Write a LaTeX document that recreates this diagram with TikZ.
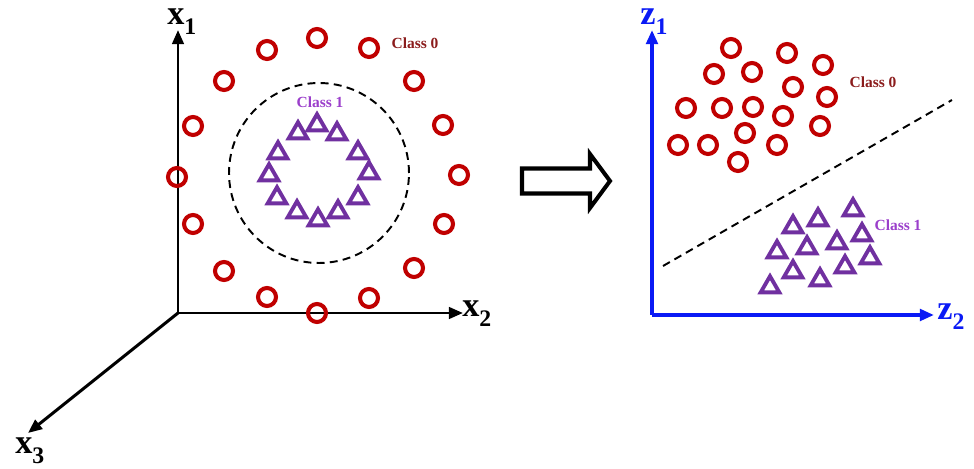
\documentclass[tikz,border=0pt]{standalone}
\usepackage{fontspec}
\setmainfont{Liberation Serif}
\usetikzlibrary{arrows.meta, shapes.geometric}
\definecolor{ring0}{HTML}{C00000}
\definecolor{tri1}{HTML}{7030A0}
\definecolor{text0}{HTML}{8B1C1C}
\definecolor{text1}{HTML}{9B3FCB}
\definecolor{zaxis}{HTML}{0A1AF5}
\newcommand{\axsub}[2]{#1\raisebox{-5.5pt}{\fontsize{13.5}{13.5}\selectfont #2}}

\begin{document}
\begin{tikzpicture}[
  x=0.02cm, y=-0.02cm,
  ring/.style={circle, draw=ring0, line width=2.3pt, minimum size=0.36cm,
               inner sep=0pt},
  tri/.style={regular polygon, regular polygon sides=3, draw=tri1,
              line width=2.2pt, minimum size=0.43cm, inner sep=0pt},
  axis/.style={line width=1.7pt, -{Triangle[length=8pt, width=6.5pt]}},
  zax/.style={axis, zaxis, line width=2.2pt},
  sep/.style={line width=1.1pt, dash pattern=on 4.5pt off 3pt},
  classlabel/.style={font=\fontsize{8.8}{9}\selectfont\bfseries},
  axlab/.style={anchor=base west, inner sep=0pt,
                font=\fontsize{19.5}{19.5}\selectfont\bfseries},
]
\useasboundingbox (0,0) rectangle (974,469);

% input space
\coordinate (o) at (178,313);
\coordinate (x1end) at (178,30);
\coordinate (x2end) at (463,313);
\coordinate (x3end) at (28,433);

\draw[axis] (o) -- (x1end);
\draw[axis] (o) -- (x2end);
\draw[axis] (o) -- (x3end);

\node[axlab] (x1) at (167,25) {\axsub{x}{1}};
\node[axlab] (x2) at (462,317) {\axsub{x}{2}};
\node[axlab] (x3) at (15,454) {\axsub{x}{3}};

\node[circle, draw, sep, minimum size=3.6cm, inner sep=0pt] (bound) at (319,173) {};

\node[ring] (a1) at (317,38) {};
\node[ring] (a2) at (267,50) {};
\node[ring] (a3) at (369,48) {};
\node[ring] (a4) at (224,81) {};
\node[ring] (a5) at (414,81) {};
\node[ring] (a6) at (193,126) {};
\node[ring] (a7) at (443,125) {};
\node[ring] (a8) at (177,177) {};
\node[ring] (a9) at (459,175) {};
\node[ring] (a10) at (193,224) {};
\node[ring] (a11) at (444,224) {};
\node[ring] (a12) at (224,271) {};
\node[ring] (a13) at (414,268) {};
\node[ring] (a14) at (267,297) {};
\node[ring] (a15) at (369,298) {};
\node[ring] (a16) at (317,313) {};

\node[tri] (b1) at (317,125) {};
\node[tri] (b2) at (298,133) {};
\node[tri] (b3) at (337,134) {};
\node[tri] (b4) at (278,153) {};
\node[tri] (b5) at (358,153) {};
\node[tri] (b6) at (269,175) {};
\node[tri] (b7) at (369,173) {};
\node[tri] (b8) at (277,198) {};
\node[tri] (b9) at (358,198) {};
\node[tri] (b10) at (297,212) {};
\node[tri] (b11) at (338,212) {};
\node[tri] (b12) at (318,220) {};

\node[classlabel, text=text0] (lab0) at (415,43) {Class 0};
\node[classlabel, text=text1] (lab1) at (320,102) {Class 1};

% mapping arrow
\draw[line width=2.3pt, line join=miter] (522,168.5) -- (590,168.5) -- (590,154)
  -- (610,181) -- (590,208) -- (590,193.5) -- (522,193.5) -- cycle;

% feature space
\coordinate (p) at (652,315);
\coordinate (z1end) at (652,30);
\coordinate (z2end) at (934,315);

\draw[zax] (p) -- (z1end);
\draw[zax] (p) -- (z2end);

\node[axlab, text=zaxis] (z1) at (640,25) {\axsub{z}{1}};
\node[axlab, text=zaxis] (z2) at (937,320) {\axsub{z}{2}};

\coordinate (sepA) at (663,266);
\coordinate (sepB) at (952,100);
\draw[sep] (sepA) -- (sepB);

\node[ring] (c1) at (731,48) {};
\node[ring] (c2) at (787,53) {};
\node[ring] (c3) at (823,65) {};
\node[ring] (c4) at (714,74) {};
\node[ring] (c5) at (752,72) {};
\node[ring] (c6) at (793,87) {};
\node[ring] (c7) at (827,97) {};
\node[ring] (c8) at (686,108) {};
\node[ring] (c9) at (722,108) {};
\node[ring] (c10) at (753,107) {};
\node[ring] (c11) at (783,116) {};
\node[ring] (c12) at (820,126) {};
\node[ring] (c13) at (745,133) {};
\node[ring] (c14) at (678,145) {};
\node[ring] (c15) at (708,145) {};
\node[ring] (c16) at (777,145) {};
\node[ring] (c17) at (738,162) {};

\node[tri] (d1) at (853,210) {};
\node[tri] (d2) at (818,220) {};
\node[tri] (d3) at (793,227) {};
\node[tri] (d4) at (862,235) {};
\node[tri] (d5) at (837,243) {};
\node[tri] (d6) at (807,248) {};
\node[tri] (d7) at (777,252) {};
\node[tri] (d8) at (870,258) {};
\node[tri] (d9) at (845,267) {};
\node[tri] (d10) at (793,272) {};
\node[tri] (d11) at (820,280) {};
\node[tri] (d12) at (770,287) {};

\node[classlabel, text=text0] (lab2) at (873,82) {Class 0};
\node[classlabel, text=text1] (lab3) at (898,225) {Class 1};

\end{tikzpicture}
\end{document}
